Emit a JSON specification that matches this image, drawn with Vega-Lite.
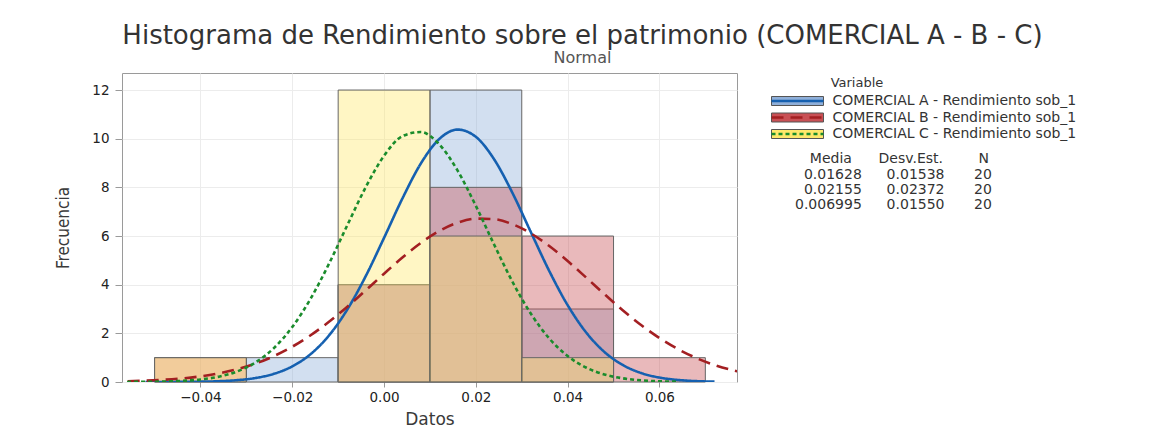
{
  "$schema": "https://vega.github.io/schema/vega-lite/v6.json",
  "width": 615,
  "height": 309,
  "autosize": {"type": "none"},
  "padding": {"left": 122, "top": 73, "right": 413, "bottom": 55},
  "background": "white",
  "title": {
    "text": "Histograma de Rendimiento sobre el patrimonio (COMERCIAL A - B - C)",
    "subtitle": "Normal",
    "anchor": "middle",
    "frame": "group",
    "dx": 153,
    "offset": 7,
    "font": "DejaVu Sans",
    "fontSize": 26,
    "fontWeight": "normal",
    "color": "#333333",
    "subtitleFont": "DejaVu Sans",
    "subtitleFontSize": 16,
    "subtitleColor": "#555555",
    "subtitlePadding": 1
  },
  "datasets": {
    "hist": [
      {"Variable": "COMERCIAL A - Rendimiento sob_1", "Media": "0.01628", "DesvEst": "0.01538", "N": 20, "x": -0.03, "fin": -0.01, "y": 1},
      {"Variable": "COMERCIAL A - Rendimiento sob_1", "Media": "0.01628", "DesvEst": "0.01538", "N": 20, "x": -0.01, "fin": 0.01, "y": 4},
      {"Variable": "COMERCIAL A - Rendimiento sob_1", "Media": "0.01628", "DesvEst": "0.01538", "N": 20, "x": 0.01, "fin": 0.03, "y": 12},
      {"Variable": "COMERCIAL A - Rendimiento sob_1", "Media": "0.01628", "DesvEst": "0.01538", "N": 20, "x": 0.03, "fin": 0.05, "y": 3},
      {"Variable": "COMERCIAL B - Rendimiento sob_1", "Media": "0.02155", "DesvEst": "0.02372", "N": 20, "x": -0.05, "fin": -0.03, "y": 1},
      {"Variable": "COMERCIAL B - Rendimiento sob_1", "Media": "0.02155", "DesvEst": "0.02372", "N": 20, "x": -0.01, "fin": 0.01, "y": 4},
      {"Variable": "COMERCIAL B - Rendimiento sob_1", "Media": "0.02155", "DesvEst": "0.02372", "N": 20, "x": 0.01, "fin": 0.03, "y": 8},
      {"Variable": "COMERCIAL B - Rendimiento sob_1", "Media": "0.02155", "DesvEst": "0.02372", "N": 20, "x": 0.03, "fin": 0.05, "y": 6},
      {"Variable": "COMERCIAL B - Rendimiento sob_1", "Media": "0.02155", "DesvEst": "0.02372", "N": 20, "x": 0.05, "fin": 0.07, "y": 1},
      {"Variable": "COMERCIAL C - Rendimiento sob_1", "Media": "0.006995", "DesvEst": "0.01550", "N": 20, "x": -0.05, "fin": -0.03, "y": 1},
      {"Variable": "COMERCIAL C - Rendimiento sob_1", "Media": "0.006995", "DesvEst": "0.01550", "N": 20, "x": -0.01, "fin": 0.01, "y": 12},
      {"Variable": "COMERCIAL C - Rendimiento sob_1", "Media": "0.006995", "DesvEst": "0.01550", "N": 20, "x": 0.01, "fin": 0.03, "y": 6},
      {"Variable": "COMERCIAL C - Rendimiento sob_1", "Media": "0.006995", "DesvEst": "0.01550", "N": 20, "x": 0.03, "fin": 0.05, "y": 1}
    ],
    "curvas": [
      {"Serie": "A", "x": -0.052, "y": 0.0005},
      {"Serie": "A", "x": -0.048, "y": 0.0017},
      {"Serie": "A", "x": -0.044, "y": 0.0048},
      {"Serie": "A", "x": -0.040, "y": 0.0128},
      {"Serie": "A", "x": -0.036, "y": 0.0321},
      {"Serie": "A", "x": -0.032, "y": 0.0752},
      {"Serie": "A", "x": -0.028, "y": 0.1644},
      {"Serie": "A", "x": -0.024, "y": 0.3363},
      {"Serie": "A", "x": -0.020, "y": 0.6424},
      {"Serie": "A", "x": -0.016, "y": 1.1468},
      {"Serie": "A", "x": -0.012, "y": 1.9133},
      {"Serie": "A", "x": -0.008, "y": 2.9843},
      {"Serie": "A", "x": -0.004, "y": 4.3497},
      {"Serie": "A", "x": 0.000, "y": 5.9255},
      {"Serie": "A", "x": 0.004, "y": 7.5437},
      {"Serie": "A", "x": 0.008, "y": 8.9758},
      {"Serie": "A", "x": 0.012, "y": 9.9815},
      {"Serie": "A", "x": 0.016, "y": 10.3739},
      {"Serie": "A", "x": 0.020, "y": 10.0765},
      {"Serie": "A", "x": 0.024, "y": 9.1474},
      {"Serie": "A", "x": 0.028, "y": 7.7612},
      {"Serie": "A", "x": 0.032, "y": 6.1541},
      {"Serie": "A", "x": 0.036, "y": 4.5607},
      {"Serie": "A", "x": 0.040, "y": 3.1585},
      {"Serie": "A", "x": 0.044, "y": 2.0446},
      {"Serie": "A", "x": 0.048, "y": 1.2369},
      {"Serie": "A", "x": 0.052, "y": 0.6993},
      {"Serie": "A", "x": 0.056, "y": 0.3696},
      {"Serie": "A", "x": 0.060, "y": 0.1825},
      {"Serie": "A", "x": 0.064, "y": 0.0842},
      {"Serie": "A", "x": 0.068, "y": 0.0364},
      {"Serie": "A", "x": 0.072, "y": 0.0147},
      {"Serie": "B", "x": -0.060, "y": 0.0182},
      {"Serie": "B", "x": -0.056, "y": 0.0321},
      {"Serie": "B", "x": -0.052, "y": 0.0550},
      {"Serie": "B", "x": -0.048, "y": 0.0914},
      {"Serie": "B", "x": -0.044, "y": 0.1478},
      {"Serie": "B", "x": -0.040, "y": 0.2321},
      {"Serie": "B", "x": -0.036, "y": 0.3545},
      {"Serie": "B", "x": -0.032, "y": 0.5262},
      {"Serie": "B", "x": -0.028, "y": 0.7591},
      {"Serie": "B", "x": -0.024, "y": 1.0644},
      {"Serie": "B", "x": -0.020, "y": 1.4506},
      {"Serie": "B", "x": -0.016, "y": 1.9216},
      {"Serie": "B", "x": -0.012, "y": 2.4742},
      {"Serie": "B", "x": -0.008, "y": 3.0964},
      {"Serie": "B", "x": -0.004, "y": 3.7664},
      {"Serie": "B", "x": 0.000, "y": 4.4528},
      {"Serie": "B", "x": 0.004, "y": 5.1168},
      {"Serie": "B", "x": 0.008, "y": 5.7148},
      {"Serie": "B", "x": 0.012, "y": 6.2039},
      {"Serie": "B", "x": 0.016, "y": 6.5460},
      {"Serie": "B", "x": 0.020, "y": 6.7133},
      {"Serie": "B", "x": 0.024, "y": 6.6918},
      {"Serie": "B", "x": 0.028, "y": 6.4834},
      {"Serie": "B", "x": 0.032, "y": 6.1054},
      {"Serie": "B", "x": 0.036, "y": 5.5882},
      {"Serie": "B", "x": 0.040, "y": 4.9715},
      {"Serie": "B", "x": 0.044, "y": 4.2988},
      {"Serie": "B", "x": 0.048, "y": 3.6129},
      {"Serie": "B", "x": 0.052, "y": 2.9513},
      {"Serie": "B", "x": 0.056, "y": 2.3433},
      {"Serie": "B", "x": 0.060, "y": 1.8084},
      {"Serie": "B", "x": 0.064, "y": 1.3563},
      {"Serie": "B", "x": 0.068, "y": 0.9889},
      {"Serie": "B", "x": 0.072, "y": 0.7007},
      {"Serie": "B", "x": 0.076, "y": 0.4826},
      {"Serie": "B", "x": 0.080, "y": 0.3231},
      {"Serie": "C", "x": -0.056, "y": 0.0027},
      {"Serie": "C", "x": -0.052, "y": 0.0074},
      {"Serie": "C", "x": -0.048, "y": 0.0190},
      {"Serie": "C", "x": -0.044, "y": 0.0459},
      {"Serie": "C", "x": -0.040, "y": 0.1039},
      {"Serie": "C", "x": -0.036, "y": 0.2197},
      {"Serie": "C", "x": -0.032, "y": 0.4348},
      {"Serie": "C", "x": -0.028, "y": 0.8049},
      {"Serie": "C", "x": -0.024, "y": 1.3943},
      {"Serie": "C", "x": -0.020, "y": 2.2593},
      {"Serie": "C", "x": -0.016, "y": 3.4254},
      {"Serie": "C", "x": -0.012, "y": 4.8588},
      {"Serie": "C", "x": -0.008, "y": 6.4477},
      {"Serie": "C", "x": -0.004, "y": 8.0052},
      {"Serie": "C", "x": 0.000, "y": 9.2984},
      {"Serie": "C", "x": 0.004, "y": 10.1048},
      {"Serie": "C", "x": 0.008, "y": 10.2736},
      {"Serie": "C", "x": 0.012, "y": 9.7723},
      {"Serie": "C", "x": 0.016, "y": 8.6965},
      {"Serie": "C", "x": 0.020, "y": 7.2405},
      {"Serie": "C", "x": 0.024, "y": 5.6399},
      {"Serie": "C", "x": 0.028, "y": 4.1100},
      {"Serie": "C", "x": 0.032, "y": 2.8024},
      {"Serie": "C", "x": 0.036, "y": 1.7874},
      {"Serie": "C", "x": 0.040, "y": 1.0668},
      {"Serie": "C", "x": 0.044, "y": 0.5956},
      {"Serie": "C", "x": 0.048, "y": 0.3111},
      {"Serie": "C", "x": 0.052, "y": 0.1520},
      {"Serie": "C", "x": 0.056, "y": 0.0695},
      {"Serie": "C", "x": 0.060, "y": 0.0297},
      {"Serie": "C", "x": 0.064, "y": 0.0119}
    ]
  },
  "config": {
    "font": "DejaVu Sans",
    "view": {"stroke": "#9a9a9a", "strokeWidth": 1},
    "axis": {
      "domain": false,
      "grid": true,
      "gridColor": "#ececec",
      "gridWidth": 1,
      "tickColor": "#9a9a9a",
      "labelFont": "DejaVu Sans",
      "labelFontSize": 13.5,
      "labelColor": "#222222",
      "titleColor": "#3a3a3a",
      "titleFontWeight": "normal"
    },
    "legend": {"orient": "none", "padding": 0, "titleLimit": 400, "labelLimit": 400}
  },
  "encoding": {
    "x": {
      "field": "x",
      "type": "quantitative",
      "scale": {"domain": [-0.0571, 0.0769], "nice": false, "zero": false},
      "axis": {
        "title": "Datos",
        "values": [-0.04, -0.02, 0, 0.02, 0.04, 0.06],
        "format": ".2f",
        "tickSize": 5,
        "labelPadding": 3,
        "titleFont": "DejaVu Sans",
        "titleFontSize": 17,
        "titlePadding": 8
      }
    },
    "y": {
      "field": "y",
      "type": "quantitative",
      "scale": {"domain": [0, 12.7], "nice": false, "zero": true},
      "axis": {
        "title": "Frecuencia",
        "values": [0, 2, 4, 6, 8, 10, 12],
        "tickSize": 7,
        "labelPadding": 6,
        "titleFont": "'DejaVu Sans Condensed', 'Liberation Sans', sans-serif",
        "titleFontSize": 17,
        "titlePadding": 19
      }
    }
  },
  "layer": [
    {
      "data": {"name": "hist"},
      "mark": {"type": "bar", "fillOpacity": 0.4, "stroke": "#666666", "strokeWidth": 1, "strokeOpacity": 1},
      "encoding": {
        "x2": {"field": "fin"},
        "y": {"field": "y", "type": "quantitative", "stack": null},
        "y2": {"datum": 0},
        "fill": {
          "field": "Variable",
          "type": "nominal",
          "scale": {
            "domain": ["COMERCIAL A - Rendimiento sob_1", "COMERCIAL B - Rendimiento sob_1", "COMERCIAL C - Rendimiento sob_1"],
            "range": ["#8fafd9", "#c85055", "#ffe86b"]
          },
          "legend": {
            "title": "\u200b\u2007\u2007\u2007\u2007\u2007\u2007\u2007\u2007Variable",
            "legendX": 642.5,
            "legendY": 4,
            "symbolType": "M0,-0.9H10.4V0.9H0Z",
            "symbolSize": 100,
            "symbolStrokeColor": "#555555",
            "symbolStrokeWidth": 1,
            "labelOffset": 54,
            "labelFontSize": 14,
            "labelColor": "#333333",
            "titleFontSize": 13,
            "titleFontWeight": "normal",
            "titleColor": "#333333",
            "titlePadding": 4,
            "rowPadding": 2.5
          }
        },
        "opacity": {
          "field": "Media",
          "type": "ordinal",
          "sort": ["0.01628", "0.02155", "0.006995"],
          "scale": {"range": [1, 1, 1]},
          "legend": {
            "title": "\u200b\u2003\u2003\u2009Media\u2007\u2007\u2007Desv.Est.\u2007\u2007\u2007\u2007N",
            "labelExpr": "datum.label == '0.01628' ? '\u200b\u20070.01628\u2007\u2007\u20020.01538\u2007\u2007\u2007\u200920' : datum.label == '0.02155' ? '\u200b\u20070.02155\u2007\u2007\u20020.02372\u2007\u2007\u2007\u200920' : '0.006995\u2007\u2007\u20020.01550\u2007\u2007\u2007\u200920'",
            "legendX": 657,
            "legendY": 79,
            "symbolType": "circle",
            "symbolSize": 10,
            "symbolOpacity": 0,
            "symbolFillColor": "transparent",
            "symbolStrokeColor": "transparent",
            "labelOffset": 2,
            "labelFontSize": 14,
            "labelColor": "#333333",
            "titleFontSize": 14,
            "titleFontWeight": "normal",
            "titleColor": "#333333",
            "titlePadding": 2,
            "rowPadding": 1
          }
        }
      }
    },
    {
      "data": {"name": "curvas"},
      "mark": {"type": "line", "strokeWidth": 2.6, "clip": true, "interpolate": "monotone"},
      "encoding": {
        "stroke": {
          "field": "Serie",
          "type": "nominal",
          "scale": {
            "domain": ["A", "B", "C"],
            "range": ["#1560b0", "#a31f22", "#1a8c2c"]
          },
          "legend": {
            "title": "\u200b\u2007\u2007\u2007\u2007\u2007\u2007\u2007\u2007Variable",
            "titleOpacity": 0,
            "labelExpr": "''",
            "legendX": 642.5,
            "legendY": 4,
            "symbolType": "M0,0H10.4",
            "symbolSize": 100,
            "symbolStrokeWidth": 2.5,
            "symbolFillColor": "transparent",
            "labelOffset": 54,
            "labelFontSize": 14,
            "titleFontSize": 13,
            "titleFontWeight": "normal",
            "titlePadding": 4,
            "rowPadding": 2.5
          }
        },
        "strokeDash": {
          "field": "Serie",
          "type": "nominal",
          "scale": {
            "domain": ["A", "B", "C"],
            "range": [[1, 0], [12, 7], [4, 3]]
          },
          "legend": {
            "title": "\u200b\u2007\u2007\u2007\u2007\u2007\u2007\u2007\u2007Variable",
            "titleOpacity": 0,
            "labelExpr": "''",
            "legendX": 642.5,
            "legendY": 4,
            "symbolType": "M0,0H10.4",
            "symbolSize": 100,
            "symbolStrokeWidth": 2.5,
            "symbolFillColor": "transparent",
            "labelOffset": 54,
            "labelFontSize": 14,
            "titleFontSize": 13,
            "titleFontWeight": "normal",
            "titlePadding": 4,
            "rowPadding": 2.5
          }
        }
      }
    }
  ]
}
